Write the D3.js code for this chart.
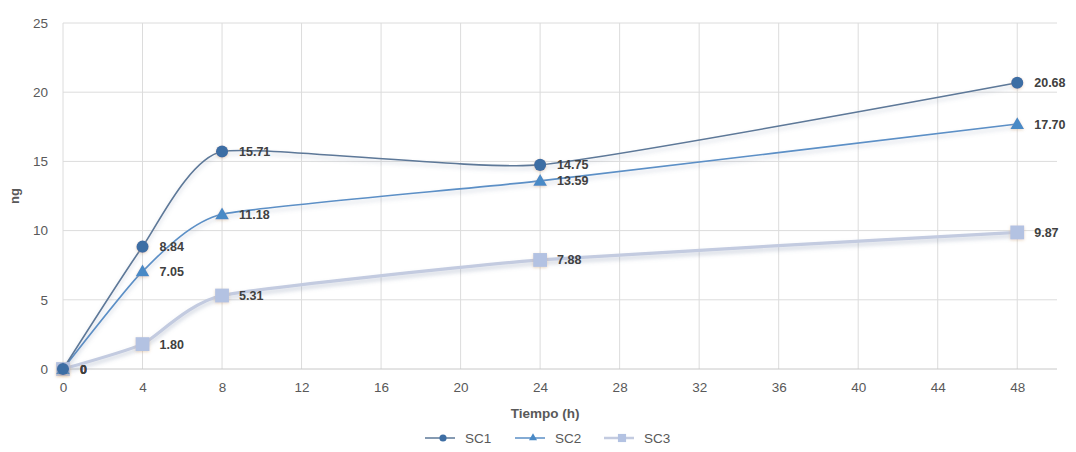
<!DOCTYPE html>
<html><head><meta charset="utf-8">
<script src="https://cdn.jsdelivr.net/npm/d3@7"></script>
<style>body{margin:0;background:#fff}svg{display:block;font-family:"Liberation Sans",Arial,sans-serif}</style>
</head><body><svg id="c" width="1076" height="452"></svg>
<script>
const times = [0, 4, 8, 24, 48];
const sc1 = [0, 8.84, 15.71, 14.75, 20.68];
const sc2 = [0, 7.05, 11.18, 13.59, 17.70];
const sc3 = [0, 1.80, 5.31, 7.88, 9.87];
const seriesNames = ["SC1", "SC2", "SC3"];
const xTicks = [0,4,8,12,16,20,24,28,32,36,40,44,48];
const yTicks = [0,5,10,15,20,25];

const svg = d3.select("#c");
const x = d3.scaleLinear().domain([0,50]).range([63,1057]);
const y = d3.scaleLinear().domain([0,25]).range([369,23]);

const defs = svg.append("defs");
const f = defs.append("filter").attr("id","sh").attr("x","-20%").attr("y","-50%").attr("width","140%").attr("height","200%");
f.append("feDropShadow").attr("dx",0).attr("dy",3).attr("stdDeviation",2).attr("flood-color","#7080a0").attr("flood-opacity",0.35);
const fm = defs.append("filter").attr("id","msh").attr("x","-50%").attr("y","-50%").attr("width","200%").attr("height","200%");
fm.append("feDropShadow").attr("dx",0).attr("dy",1).attr("stdDeviation",1.5).attr("flood-color","#d0a070").attr("flood-opacity",0.4);

// grid
svg.append("g").selectAll("line").data(yTicks.filter(d=>d>0)).join("line")
  .attr("x1",63).attr("x2",1057).attr("y1",d=>y(d)).attr("y2",d=>y(d))
  .attr("stroke","#dcdcdc").attr("stroke-width",1);
svg.append("g").selectAll("line").data(xTicks).join("line")
  .attr("x1",d=>x(d)).attr("x2",d=>x(d)).attr("y1",23).attr("y2",369)
  .attr("stroke","#dcdcdc").attr("stroke-width",1);
svg.append("line").attr("x1",63).attr("x2",1057).attr("y1",y(0)).attr("y2",y(0)).attr("stroke","#c8c8c8");

// axes labels
const xa = svg.append("g").attr("transform",`translate(0,${y(0)})`)
  .call(d3.axisBottom(x).tickValues(xTicks).tickSize(0).tickPadding(13));
xa.select(".domain").remove();
xa.selectAll("text").attr("fill","#595959").style("font-size","13.5px");
const ya = svg.append("g").attr("transform","translate(48,0)")
  .call(d3.axisLeft(y).tickValues(yTicks).tickSize(0).tickPadding(0));
ya.select(".domain").remove();
ya.selectAll("text").attr("fill","#595959").style("font-size","13.5px");

svg.append("text").attr("x",545).attr("y",418).attr("text-anchor","middle")
  .attr("fill","#595959").style("font-size","13.5px").style("font-weight","bold").text("Tiempo (h)");
svg.append("text").attr("transform","translate(19,196) rotate(-90)").attr("text-anchor","middle")
  .attr("fill","#595959").style("font-size","13px").style("font-weight","bold").text("ng");

const cfg = [
  {name:seriesNames[0], vals:sc1, line:"#5d7898", lw:1.6, mk:"#3e6ea4", sym:d3.symbolCircle, size:115},
  {name:seriesNames[1], vals:sc2, line:"#5b8fc6", lw:1.6, mk:"#4a8ac6", sym:d3.symbolTriangle, size:80},
  {name:seriesNames[2], vals:sc3, line:"#c3cbe0", lw:3.2, mk:"#b3c2e2", sym:d3.symbolSquare, size:190},
];
const lineGen = d3.line().x(d=>x(d[0])).y(d=>y(d[1])).curve(d3.curveCardinal.tension(0.5));

[...cfg].reverse().forEach(s=>{
  const pts = times.map((t,i)=>[t,s.vals[i]]);
  svg.append("path").datum(pts).attr("d",lineGen).attr("fill","none")
    .attr("stroke",s.line).attr("stroke-width",s.lw).attr("filter","url(#sh)");
});
cfg.slice().reverse().forEach(s=>{
  const pts = times.map((t,i)=>[t,s.vals[i]]);
  svg.append("g").selectAll("path").data(pts).join("path")
    .attr("d",d3.symbol().type(s.sym).size(s.size))
    .attr("transform",d=>`translate(${x(d[0])},${y(d[1])+(s.sym===d3.symbolTriangle?1:0)})`)
    .attr("fill",s.mk).attr("filter","url(#msh)");
  svg.append("g").selectAll("text").data(pts).join("text")
    .attr("x",d=>x(d[0])+17).attr("y",d=>y(d[1])+4.5)
    .attr("fill","#404040").style("font-size","12.5px").style("font-weight","bold")
    .text(d=>d[1]===0?"0":d[1].toFixed(2));
});

// legend
const lg = svg.append("g");
const lx = [443, 533, 622];
cfg.forEach((s,i)=>{
  const g = lg.append("g").attr("transform",`translate(${lx[i]},438)`);
  g.append("line").attr("x1",-18).attr("x2",12).attr("y1",0).attr("y2",0)
    .attr("stroke",s.line).attr("stroke-width",s.lw>2?2.5:1.5);
  g.append("path").attr("d",d3.symbol().type(s.sym).size(s.size*0.35)).attr("fill",s.mk);
  g.append("text").attr("x",22).attr("y",5).attr("fill","#595959").style("font-size","13.5px").text(s.name);
});
</script></body></html>
